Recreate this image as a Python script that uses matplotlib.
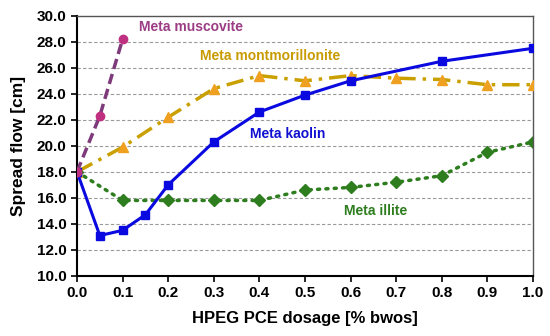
import numpy as np
import matplotlib.pyplot as plt

# data
x_musc = [0.0, 0.05, 0.1]
y_musc = [18.0, 22.3, 28.2]

x_mont = [0.0, 0.1, 0.2, 0.3, 0.4, 0.5, 0.6, 0.7, 0.8, 0.9, 1.0]
y_mont = [18.0, 19.9, 22.2, 24.4, 25.4, 25.0, 25.4, 25.2, 25.1, 24.7, 24.7]

x_kaol = [0.0, 0.05, 0.1, 0.15, 0.2, 0.3, 0.4, 0.5, 0.6, 0.8, 1.0]
y_kaol = [18.0, 13.1, 13.5, 14.7, 17.0, 20.3, 22.6, 23.9, 25.0, 26.5, 27.5]

x_illi = [0.0, 0.1, 0.2, 0.3, 0.4, 0.5, 0.6, 0.7, 0.8, 0.9, 1.0]
y_illi = [18.0, 15.8, 15.8, 15.8, 15.8, 16.6, 16.8, 17.2, 17.7, 19.5, 20.3]

plt.rcParams['font.family'] = ['Liberation Sans', 'DejaVu Sans']
plt.rcParams['font.weight'] = 'bold'

fig = plt.figure(figsize=(5.5, 3.36), dpi=100)
ax = fig.add_axes([0.14, 0.179, 0.829, 0.774])

# gridlines
for yv in np.arange(12, 30, 2):
    ax.axhline(yv, color='#999999', lw=0.8, ls=(0, (3, 2)), zorder=0)

ax.plot(x_illi, y_illi, color='#2E7D1E', lw=2.5, ls=(0, (0.6, 1.8)),
        dash_capstyle='round', marker='D', ms=6, mfc='#2E7D1E', mec='#2E7D1E', zorder=2)
ax.plot(x_mont, y_mont, color='#C9A000', lw=2.5, ls=(0, (5, 2, 1, 2)),
        marker='^', ms=7, mfc='#EFA020', mec='#EFA020', zorder=3)
ax.plot(x_kaol, y_kaol, color='#0A0AE0', lw=2.2, ls='-',
        marker='s', ms=6, mfc='#0A0AE0', mec='#0A0AE0', zorder=4)
ax.plot(x_musc, y_musc, color='#7E3A7A', lw=2.5, ls=(0, (3, 1.5)),
        marker='o', ms=6, mfc='#C03080', mec='#C03080', zorder=5)

ax.text(0.135, 28.8, 'Meta muscovite', color='#9B3C84', fontsize=10, fontweight='bold')
ax.text(0.27, 26.6, 'Meta montmorillonite', color='#C89B00', fontsize=10, fontweight='bold')
ax.text(0.38, 20.6, 'Meta kaolin', color='#1010D0', fontsize=10, fontweight='bold')
ax.text(0.585, 14.7, 'Meta illite', color='#2E7D1E', fontsize=10, fontweight='bold')

ax.set_xlim(0, 1.0)
ax.set_ylim(10, 30)
ax.set_xticks(np.arange(0, 1.01, 0.1))
ax.set_xticklabels([f'{v:.1f}' for v in np.arange(0, 1.01, 0.1)])
ax.set_yticks(np.arange(10, 30.1, 2))
ax.set_yticklabels([f'{v:.1f}' for v in np.arange(10, 30.1, 2)])
ax.tick_params(axis='both', labelsize=11, direction='out', length=4, width=1.2)
for lab in ax.get_xticklabels() + ax.get_yticklabels():
    lab.set_fontweight('bold')

for s in ['left', 'bottom']:
    ax.spines[s].set_linewidth(1.5)
for s in ['top', 'right']:
    ax.spines[s].set_linewidth(1.0)
    ax.spines[s].set_color('#555555')

ax.set_xlabel('HPEG PCE dosage [% bwos]', fontsize=12, fontweight='bold', labelpad=8)
ax.set_ylabel('Spread flow [cm]', fontsize=12.5, fontweight='bold', labelpad=8)

fig.savefig('out.png', dpi=100)
